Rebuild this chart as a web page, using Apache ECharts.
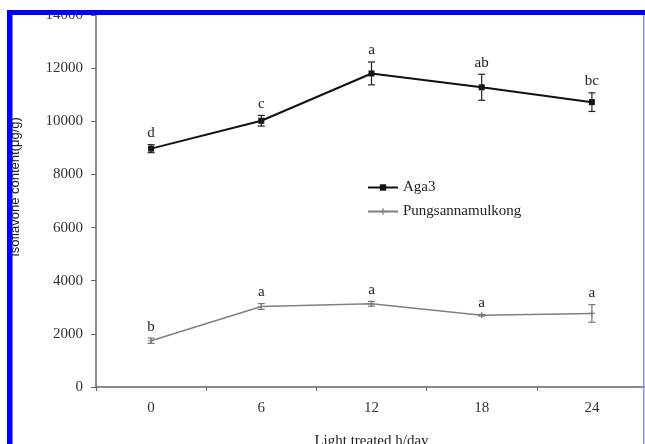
<!DOCTYPE html>
<html>
<head>
<meta charset="utf-8">
<script src="https://cdn.jsdelivr.net/npm/echarts@6/dist/echarts.min.js"></script>
<style>
html,body{margin:0;padding:0;background:#fff;}
#c{width:645px;height:444px;}
</style>
</head>
<body>
<div id="c"></div>
<script>
var categories = ['0', '6', '12', '18', '24'];
var aga3Mean = [8970, 10020, 11800, 11280, 10720];
var aga3Err = [150, 200, 430, 490, 350];
var aga3Letters = ['d', 'c', 'a', 'ab', 'bc'];
var pungMean = [1740, 3030, 3130, 2700, 2770];
var pungErr = [100, 110, 90, 30, 330];
var pungLetters = ['b', 'a', 'a', 'a', 'a'];
var yTicks = { min: 0, max: 14000, interval: 2000 };

var SERIF = '"Liberation Serif", "DejaVu Serif", serif';

function errData(means, errs) {
  return means.map(function (m, i) { return [i, m, errs[i]]; });
}
function errRender(letters, color) {
  return function (params, api) {
    var x = api.value(0), y = api.value(1), e = api.value(2);
    var top = api.coord([x, y + e]);
    var bot = api.coord([x, y - e]);
    var cw = 3.5;
    var st = { stroke: color, lineWidth: 1.2 };
    return {
      type: 'group',
      children: [
        { type: 'line', shape: { x1: top[0], y1: top[1], x2: bot[0], y2: bot[1] }, style: st },
        { type: 'line', shape: { x1: top[0] - cw, y1: top[1], x2: top[0] + cw, y2: top[1] }, style: st },
        { type: 'line', shape: { x1: bot[0] - cw, y1: bot[1], x2: bot[0] + cw, y2: bot[1] }, style: st },
        { type: 'text', style: { x: top[0], y: top[1] - 4, text: letters[params.dataIndex], align: 'center', verticalAlign: 'bottom', fill: '#222', font: '15px ' + SERIF } }
      ]
    };
  };
}

var chart = echarts.init(document.getElementById('c'), null, { renderer: 'canvas' });
chart.setOption({
  backgroundColor: '#fff',
  animation: false,
  grid: { left: 96, top: 15, width: 551, height: 372, containLabel: false, outerBoundsMode: 'none' },
  legend: {
    data: ['Aga3', 'Pungsannamulkong'],
    orient: 'vertical',
    left: 362,
    top: 175,
    itemWidth: 30,
    itemHeight: 8,
    itemGap: 9,
    textStyle: { fontFamily: SERIF, fontSize: 15, color: '#222' }
  },
  xAxis: {
    type: 'category',
    data: categories,
    boundaryGap: true,
    name: 'Light treated h/day',
    nameLocation: 'middle',
    nameGap: 47,
    nameTextStyle: { fontFamily: SERIF, fontSize: 15, color: '#222' },
    axisLine: { lineStyle: { color: '#666', width: 1.5 } },
    axisTick: { show: true, length: 4, lineStyle: { color: '#666' } },
    axisLabel: { fontFamily: SERIF, fontSize: 15, color: '#333', margin: 14 },
    splitLine: { show: false }
  },
  yAxis: {
    type: 'value',
    min: yTicks.min,
    max: yTicks.max,
    interval: yTicks.interval,
    name: 'Isoflavone content(μg/g)',
    nameLocation: 'middle',
    nameGap: 74,
    nameTextStyle: { fontFamily: '"Liberation Sans", Arial, sans-serif', fontSize: 13, color: '#222', padding: [0, 0, 0, 28] },
    axisLine: { show: true, lineStyle: { color: '#666', width: 1.5 } },
    axisTick: { show: true, length: 5, lineStyle: { color: '#666' } },
    axisLabel: { fontFamily: SERIF, fontSize: 15, color: '#333', margin: 13, formatter: function (v) { return String(v); } },
    splitLine: { show: false }
  },
  series: [
    {
      name: 'Aga3', type: 'line', data: aga3Mean,
      symbol: 'rect', symbolSize: 6,
      lineStyle: { color: '#111', width: 2 },
      itemStyle: { color: '#111' }, z: 3
    },
    {
      name: 'Pungsannamulkong', type: 'line', data: pungMean,
      symbol: 'path://M4,0h2v4h4v2h-4v4h-2v-4h-4v-2h4z', symbolSize: 6,
      lineStyle: { color: '#808080', width: 1.5 },
      itemStyle: { color: '#808080' }, z: 3
    },
    {
      type: 'custom', name: 'aga3err', data: errData(aga3Mean, aga3Err),
      renderItem: errRender(aga3Letters, '#222'), z: 4, silent: true
    },
    {
      type: 'custom', name: 'pungerr', data: errData(pungMean, pungErr),
      renderItem: errRender(pungLetters, '#777'), z: 4, silent: true
    }
  ],
  graphic: [
    { type: 'rect', z: 100, shape: { x: 0, y: 0, width: 645, height: 10 }, style: { fill: '#fff' } },
    { type: 'rect', z: 101, shape: { x: 7, y: 10, width: 638, height: 5 }, style: { fill: '#0000ff' } },
    { type: 'rect', z: 101, shape: { x: 7, y: 10, width: 5.5, height: 434 }, style: { fill: '#0000ff' } },
    { type: 'rect', z: 101, shape: { x: 643, y: 15, width: 1.5, height: 429 }, style: { fill: '#8c8cff' } }
  ]
});
</script>
</body>
</html>
